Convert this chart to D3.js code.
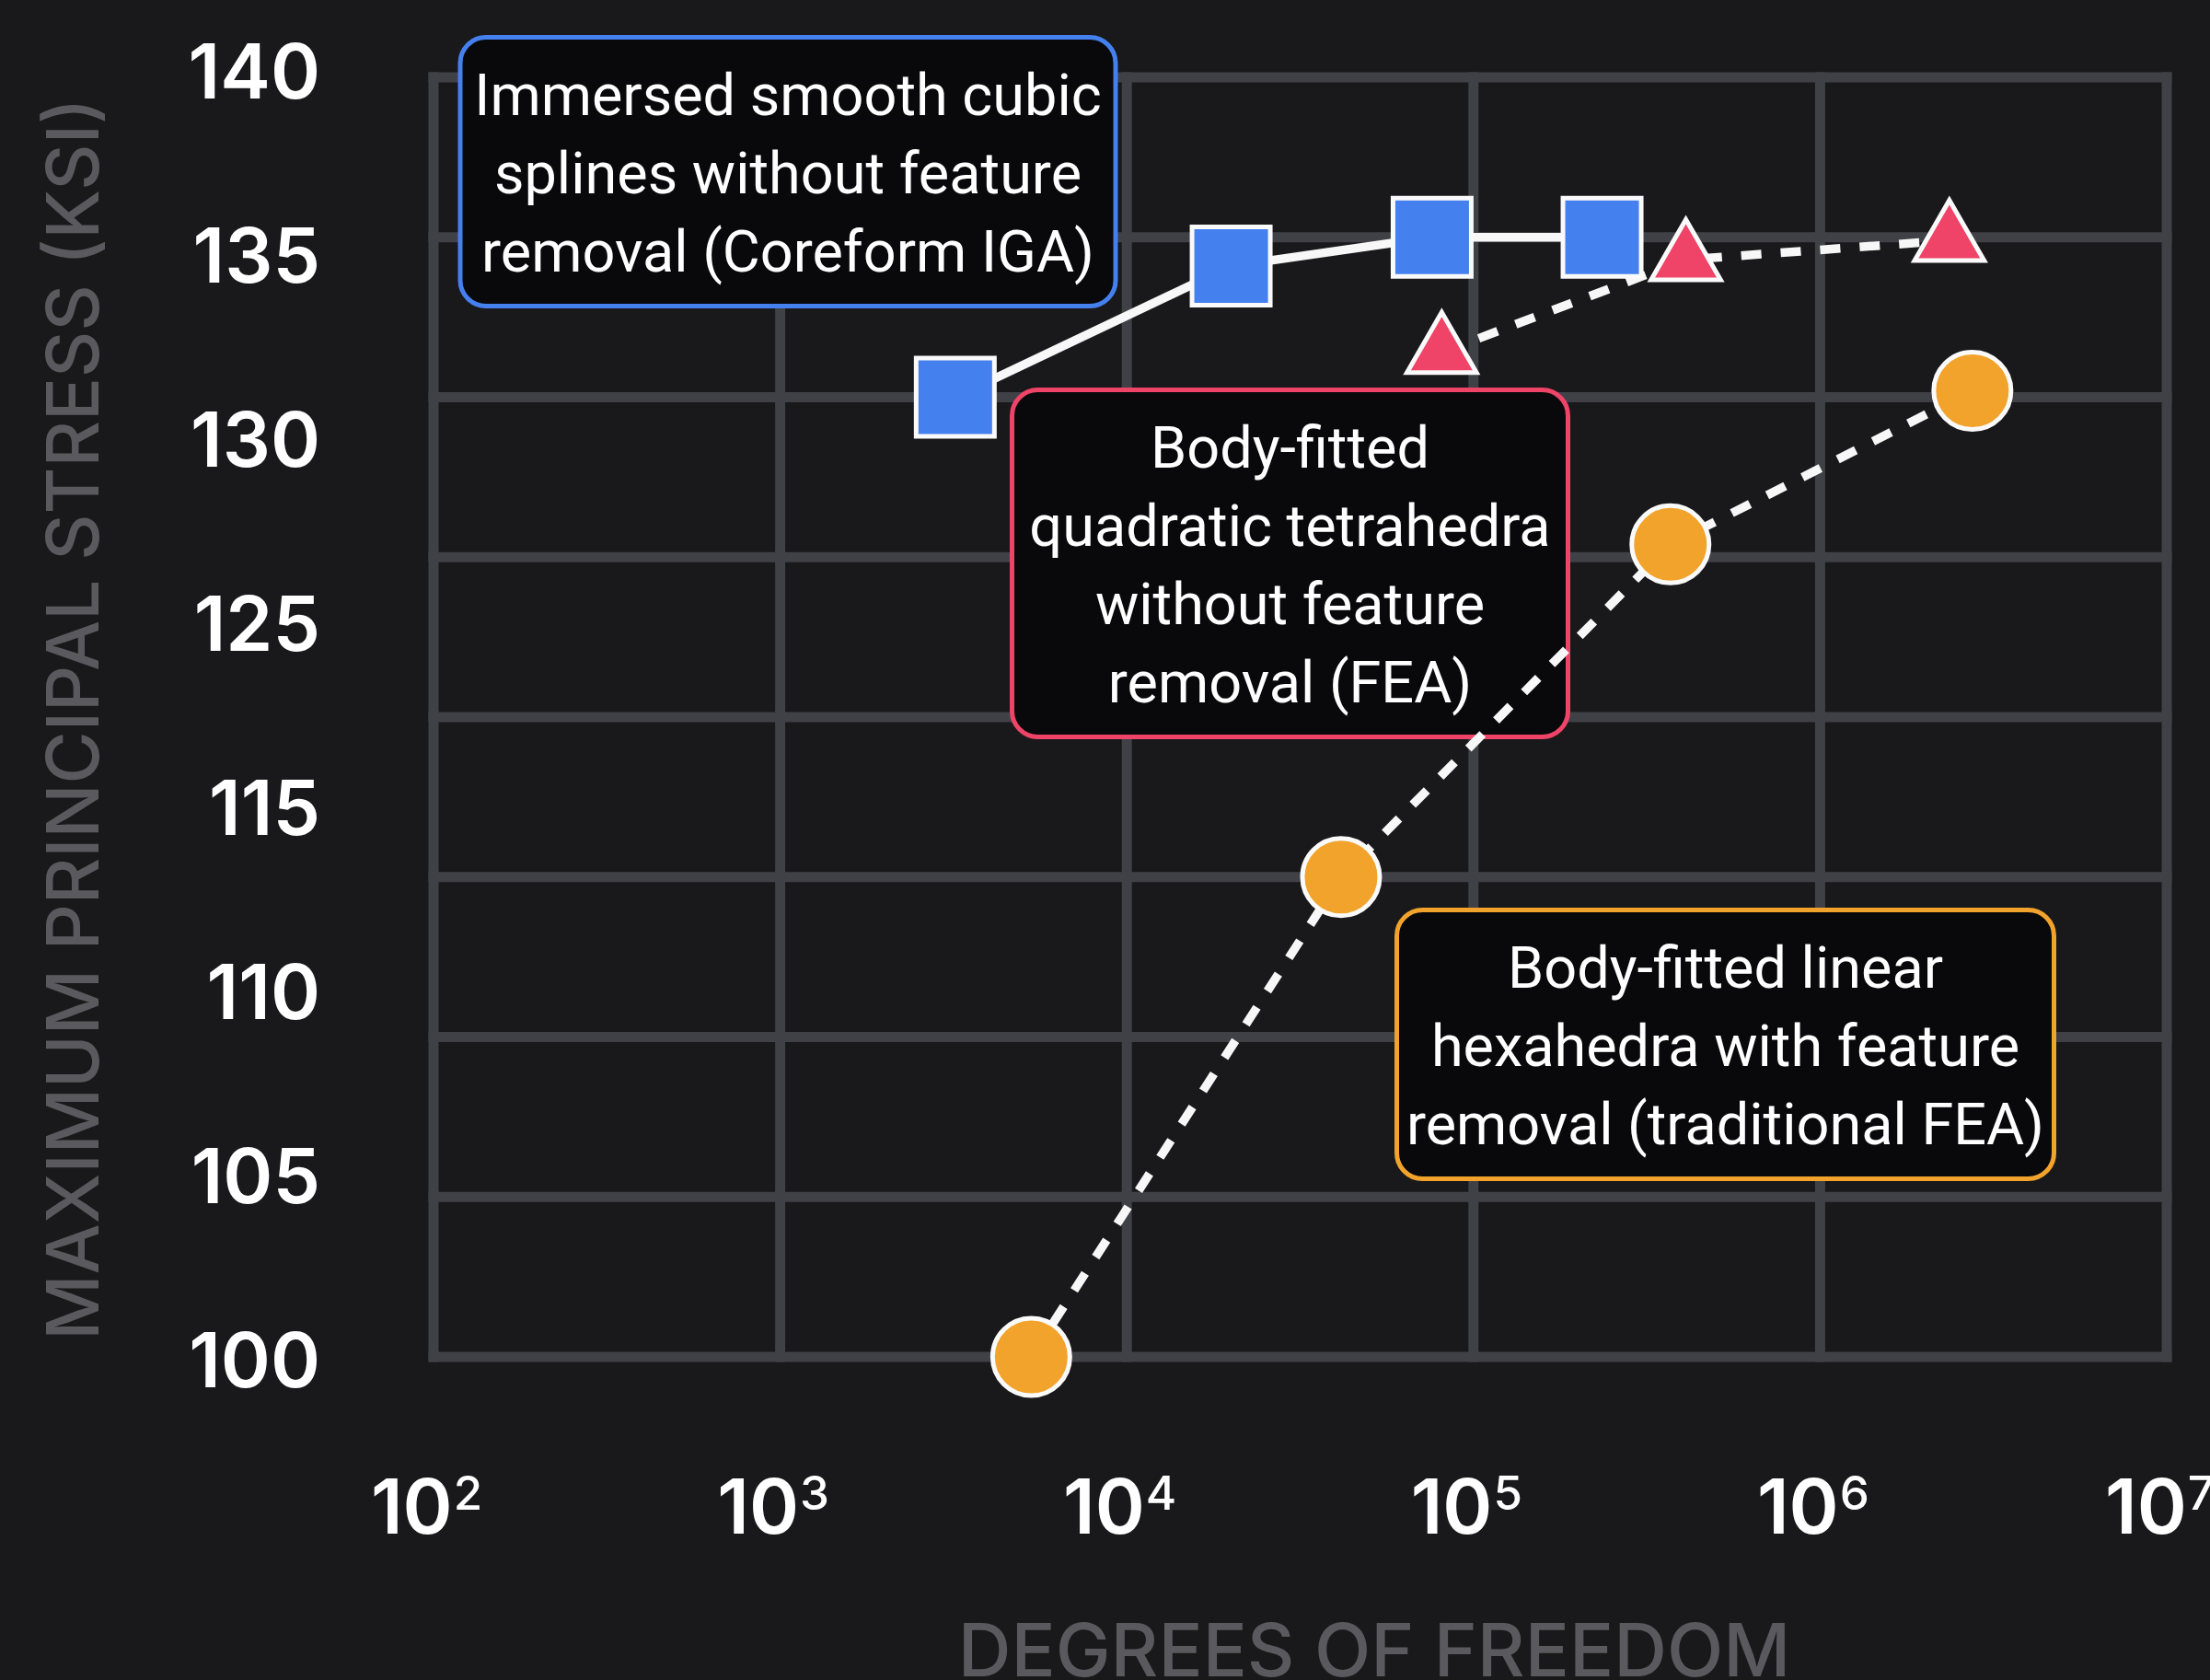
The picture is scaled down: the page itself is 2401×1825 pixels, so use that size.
<!DOCTYPE html>
<html>
<head>
<meta charset="utf-8">
<script src="https://cdn.jsdelivr.net/npm/d3@7"></script>
<style>
  html, body { margin: 0; padding: 0; background: #19191b; }
  svg { display: block; }
</style>
</head>
<body>
<svg id="chart" width="2401" height="1825"></svg>
<script>
// ---- data ----
const yTickLabels = [140, 135, 130, 125, 115, 110, 105, 100];
const xTickExponents = [2, 3, 4, 5, 6, 7];
const gridStress = [100, 105, 110, 115, 120, 125, 130, 135, 140];

// Immersed smooth cubic splines (Coreform IGA)
const igaDof = [3200, 20000, 76000, 235000];
const igaStress = [130.0, 134.1, 135.0, 135.0];

// Body-fitted quadratic tetrahedra (FEA)
const tetDof = [81000, 410000, 2360000];
const tetStress = [131.4, 134.3, 134.9];

// Body-fitted linear hexahedra with feature removal (traditional FEA)
const hexDof = [5300, 41500, 370000, 2750000];
const hexStress = [100.0, 115.0, 125.4, 130.2];

const noteIga = ["Immersed smooth cubic", "splines without feature", "removal (Coreform IGA)"];
const noteTet = ["Body-fitted", "quadratic tetrahedra", "without feature", "removal (FEA)"];
const noteHex = ["Body-fitted linear", "hexahedra with feature", "removal (traditional FEA)"];

const yTitle = "MAXIMUM PRINCIPAL STRESS (KSI)";
const xTitle = "DEGREES OF FREEDOM";

// ---- styling ----
const COLORS = {
  grid: "#404147",
  line: "#f7f7f7",
  blue: "#4580ef",
  red: "#ef4468",
  orange: "#f2a32c",
  boxFill: "#09090b",
  title: "#5a5a5e",
  tick: "#ffffff"
};

const svg = d3.select("#chart");

// ---- scales ----
const x = d3.scaleLog().domain([1e2, 1e7]).range([471, 2354]);
const y = d3.scaleLinear().domain([100, 140]).range([1474, 84]);
const yLabel = d3.scalePoint().domain(yTickLabels).range([77, 1477]);

// ---- grid ----
const grid = svg.append("g")
  .attr("stroke", COLORS.grid)
  .attr("stroke-width", 11)
  .attr("stroke-linecap", "square");

grid.selectAll("line.v")
  .data(xTickExponents.map(e => Math.pow(10, e)))
  .join("line")
  .attr("class", "v")
  .attr("x1", d => x(d)).attr("x2", d => x(d))
  .attr("y1", y(140)).attr("y2", y(100));

grid.selectAll("line.h")
  .data(gridStress)
  .join("line")
  .attr("class", "h")
  .attr("y1", d => y(d)).attr("y2", d => y(d))
  .attr("x1", x(1e2)).attr("x2", x(1e7));

// ---- y tick labels ----
svg.append("g")
  .attr("transform", "translate(348,0)")
  .call(d3.axisLeft(yLabel).tickSize(0).tickPadding(0))
  .call(g => g.select(".domain").remove())
  .attr("font-family", "Inter, sans-serif")
  .attr("font-size", 82)
  .attr("font-weight", 600)
  .selectAll("text")
  .attr("fill", COLORS.tick)
  .attr("dy", "0.36em");

// ---- x tick labels (powers of ten) ----
const xAxisG = svg.append("g")
  .attr("transform", "translate(0,1666)")
  .call(d3.axisBottom(x)
    .tickValues(xTickExponents.map(e => Math.pow(10, e)))
    .tickSize(0)
    .tickFormat(() => ""))
  .call(g => g.select(".domain").remove())
  .attr("font-family", "Inter, sans-serif")
  .attr("font-size", 82)
  .attr("font-weight", 600);

xAxisG.selectAll(".tick text").each(function(d) {
  const t = d3.select(this)
    .attr("fill", COLORS.tick)
    .attr("y", 0)
    .attr("dy", 0)
    .attr("x", -8)
    .attr("text-anchor", "middle");
  t.text(null);
  t.append("tspan").text("10");
  t.append("tspan")
    .attr("dx", 1)
    .attr("dy", -26)
    .attr("font-size", 51)
    .attr("font-weight", 500)
    .text(Math.round(Math.log10(d)));
});

// ---- axis titles ----
svg.append("text")
  .attr("transform", "translate(107,781) rotate(-90)")
  .attr("text-anchor", "middle")
  .attr("font-family", "Inter, sans-serif")
  .attr("font-size", 78)
  .attr("font-weight", 500)
  .attr("fill", COLORS.title)
  .text(yTitle);

svg.append("text")
  .attr("x", 1493)
  .attr("y", 1821)
  .attr("text-anchor", "middle")
  .attr("font-family", "Inter, sans-serif")
  .attr("font-size", 80)
  .attr("font-weight", 500)
  .attr("fill", COLORS.title)
  .text(xTitle);

// ---- annotation boxes ----
const notes = [
  { lines: noteIga, color: COLORS.blue,   x: 500,    y: 40.5,  w: 712, h: 292 },
  { lines: noteTet, color: COLORS.red,    x: 1099.5, y: 423.5, w: 604, h: 377 },
  { lines: noteHex, color: COLORS.orange, x: 1517.5, y: 988.5, w: 714, h: 292 }
];
const lineGap = 85;

const noteG = svg.append("g").selectAll("g")
  .data(notes)
  .join("g");

noteG.append("rect")
  .attr("x", d => d.x).attr("y", d => d.y)
  .attr("width", d => d.w).attr("height", d => d.h)
  .attr("rx", 28).attr("ry", 28)
  .attr("fill", COLORS.boxFill)
  .attr("stroke", d => d.color)
  .attr("stroke-width", 5);

noteG.each(function(d) {
  const cx = d.x + d.w / 2;
  const cy = d.y + d.h / 2;
  const n = d.lines.length;
  d3.select(this).append("text")
    .attr("text-anchor", "middle")
    .attr("font-family", "Roboto, sans-serif")
    .attr("font-size", 63)
    .attr("font-weight", 400)
    .attr("fill", "#ffffff")
    .selectAll("tspan")
    .data(d.lines)
    .join("tspan")
    .attr("x", cx)
    .attr("y", (s, i) => cy + (i - (n - 1) / 2) * lineGap + 23)
    .text(s => s);
});

// ---- series lines ----
const lineGen = d3.line().x(p => x(p[0])).y(p => y(p[1]));
const igaPts = d3.zip(igaDof, igaStress);
const tetPts = d3.zip(tetDof, tetStress);
const hexPts = d3.zip(hexDof, hexStress);

svg.append("path")
  .attr("d", lineGen(igaPts))
  .attr("fill", "none")
  .attr("stroke", COLORS.line)
  .attr("stroke-width", 9.5);

svg.append("path")
  .attr("d", lineGen(tetPts))
  .attr("fill", "none")
  .attr("stroke", COLORS.line)
  .attr("stroke-width", 9.5)
  .attr("stroke-dasharray", "22 21");

svg.append("path")
  .attr("d", lineGen(hexPts))
  .attr("fill", "none")
  .attr("stroke", COLORS.line)
  .attr("stroke-width", 9.5)
  .attr("stroke-dasharray", "22 21");

// ---- markers ----
function markers(pts, type, size, color) {
  svg.append("g").selectAll("path")
    .data(pts)
    .join("path")
    .attr("transform", p => `translate(${x(p[0])},${y(p[1])})`)
    .attr("d", d3.symbol().type(type).size(size))
    .attr("fill", color)
    .attr("stroke", "#fafafa")
    .attr("stroke-width", 5)
    .attr("stroke-linejoin", "miter");
}

markers(igaPts, d3.symbolSquare, 85 * 85, COLORS.blue);
markers(tetPts, d3.symbolTriangle, 2470, COLORS.red);
markers(hexPts, d3.symbolCircle, Math.PI * 42 * 42, COLORS.orange);
</script>
</body>
</html>
